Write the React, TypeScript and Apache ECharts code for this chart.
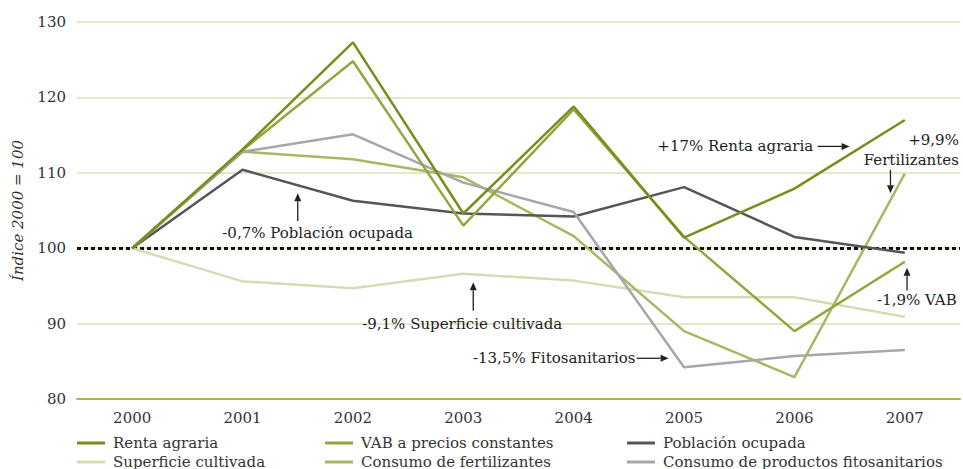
import { useEffect, useRef } from "react";
import * as echarts from "echarts";

const years = ["2000", "2001", "2002", "2003", "2004", "2005", "2006", "2007"];
const rentaAgraria = [100, 113.1, 127.3, 104.6, 118.8, 101.4, 107.9, 117.0];
const vabPreciosConstantes = [100, 113.0, 124.8, 103.0, 118.4, 101.5, 89.0, 98.2];
const poblacionOcupada = [100, 110.4, 106.3, 104.6, 104.2, 108.1, 101.5, 99.4];
const superficieCultivada = [100, 95.6, 94.7, 96.6, 95.7, 93.5, 93.5, 90.9];
const consumoFertilizantes = [100, 112.8, 111.8, 109.4, 101.6, 89.0, 82.9, 109.9];
const consumoFitosanitarios = [100, 112.8, 115.1, 108.7, 104.8, 84.2, 85.7, 86.5];
const yTicks = { min: 80, max: 130, interval: 10 };

const seriesNames = [
  "Renta agraria",
  "VAB a precios constantes",
  "Población ocupada",
  "Superficie cultivada",
  "Consumo de fertilizantes",
  "Consumo de productos fitosanitarios",
];

// annotations in data space: [category index (fractional), value]
const notes = [
  { text: "-0,7% Población ocupada", x: 1.68, y: 102.0, align: "center" },
  { text: "-9,1% Superficie cultivada", x: 2.99, y: 89.9, align: "center" },
  { text: "-13,5% Fitosanitarios", x: 4.56, y: 85.4, align: "right" },
  { text: "+17% Renta agraria", x: 6.17, y: 113.6, align: "right" },
  { text: "+9,9%", x: 7.49, y: 114.4, align: "right" },
  { text: "Fertilizantes", x: 7.49, y: 111.7, align: "right" },
  { text: "-1,9% VAB", x: 7.47, y: 93.1, align: "right" },
];
const arrows = [
  { from: [1.5, 103.6], to: [1.5, 107.3] },
  { from: [3.09, 91.7], to: [3.09, 95.5] },
  { from: [4.57, 85.4], to: [4.86, 85.4] },
  { from: [6.21, 113.5], to: [6.5, 113.5] },
  { from: [6.87, 110.4], to: [6.87, 107.3] },
  { from: [7.02, 94.4], to: [7.02, 97.4] },
];

const FONT = "DejaVu Serif";

export default function App() {
  const ref = useRef<HTMLDivElement>(null);
  useEffect(() => {
    if (!ref.current) return;
    const chart = echarts.init(ref.current, undefined, { renderer: "svg" });
    const colors = ["#7d8b1d", "#97a540", "#56565a", "#d5dcb4", "#abb663", "#a6a6ab"];
    const values = [
      rentaAgraria,
      vabPreciosConstantes,
      poblacionOcupada,
      superficieCultivada,
      consumoFertilizantes,
      consumoFitosanitarios,
    ];
    const legendPos = [
      [77, 435.5],
      [325, 435.5],
      [627, 435.5],
      [77, 454.5],
      [325, 454.5],
      [627, 454.5],
    ];
    const legends = seriesNames.map((name, i) => ({
      orient: "horizontal",
      left: legendPos[i][0],
      top: legendPos[i][1],
      padding: 0,
      itemWidth: 28,
      itemHeight: 3,
      icon: "rect",
      data: [name],
      textStyle: { fontFamily: FONT, fontSize: 15, color: "#333", lineHeight: 15, padding: [0, 0, 0, 3] },
    }));
    chart.setOption({
      animation: false,
      backgroundColor: "#fff",
      grid: { left: 77, right: 3, top: 22, bottom: 70 },
      legend: legends,
      xAxis: {
        type: "category",
        data: years,
        boundaryGap: true,
        axisLine: { lineStyle: { color: "#a9b552", width: 2 } },
        axisTick: { show: false },
        axisLabel: { fontFamily: FONT, fontSize: 15, color: "#333", margin: 11 },
      },
      yAxis: {
        type: "value",
        min: yTicks.min,
        max: yTicks.max,
        interval: yTicks.interval,
        name: "Índice 2000 = 100",
        nameLocation: "middle",
        nameGap: 52,
        nameTextStyle: { fontFamily: FONT, fontSize: 15, fontStyle: "italic", color: "#333" },
        axisLine: { show: false },
        axisTick: { show: false },
        axisLabel: { fontFamily: FONT, fontSize: 15, color: "#333", margin: 11 },
        splitLine: { lineStyle: { color: "#dae0bd", width: 1.5 } },
      },
      series: seriesNames.map((name, i) => ({
        name,
        type: "line",
        data: values[i],
        symbol: "none",
        z: [6, 5, 4, 2, 3, 4][i],
        lineStyle: { color: colors[i], width: 2.5 },
        itemStyle: { color: colors[i] },
        markLine:
          i === 0
            ? {
                silent: true,
                symbol: ["none", "none"],
                label: { show: false },
                lineStyle: { color: "#111", type: [4, 3], width: 3 },
                data: [{ yAxis: 100 }],
                z: 1,
              }
            : undefined,
      })),
    });

    const px = (p: number[]) => {
      const a = chart.convertToPixel({ gridIndex: 0 }, [0, p[1]]) as number[];
      const b = chart.convertToPixel({ gridIndex: 0 }, [1, p[1]]) as number[];
      return [a[0] + p[0] * (b[0] - a[0]), a[1]];
    };
    const graphic: any[] = [];
    notes.forEach((n) => {
      const [x, y] = px([n.x, n.y]);
      graphic.push({
        type: "text",
        x,
        y,
        style: {
          text: n.text,
          font: `15px "${FONT}"`,
          fill: "#222",
          align: n.align,
          verticalAlign: "middle",
        },
        z: 20,
      });
    });
    arrows.forEach((a) => {
      const [x1, y1] = px(a.from);
      const [x2, y2] = px(a.to);
      const dx = x2 - x1;
      const dy = y2 - y1;
      const len = Math.sqrt(dx * dx + dy * dy) || 1;
      const ux = dx / len;
      const uy = dy / len;
      const hl = 8;
      const hw = 3.5;
      const bx = x2 - ux * hl;
      const by = y2 - uy * hl;
      graphic.push({
        type: "line",
        shape: { x1, y1, x2: bx, y2: by },
        style: { stroke: "#222", lineWidth: 1.3 },
        z: 20,
      });
      graphic.push({
        type: "polygon",
        shape: {
          points: [
            [x2, y2],
            [bx - uy * hw, by + ux * hw],
            [bx + uy * hw, by - ux * hw],
          ],
        },
        style: { fill: "#222" },
        z: 20,
      });
    });
    chart.setOption({ graphic });
    return () => chart.dispose();
  }, []);
  return (
    <div
      ref={ref}
      style={{ position: "fixed", left: 0, top: 0, width: 963, height: 469 }}
    />
  );
}
